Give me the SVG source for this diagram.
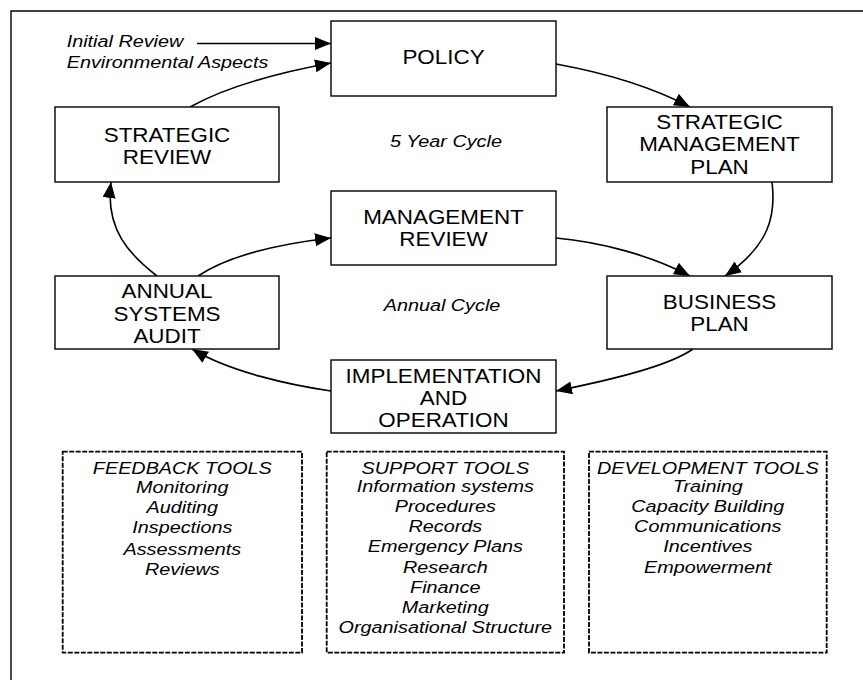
<svg xmlns="http://www.w3.org/2000/svg" width="863" height="680" viewBox="0 0 863 680">
<style>
.box{fill:#fff;stroke:#000;stroke-width:1.4}
.dash{fill:none;stroke:#000;stroke-width:1.8;stroke-dasharray:5 1.5}
.bx{font-family:"Liberation Sans",Arial,sans-serif;font-size:19.5px;text-anchor:middle;fill:#000}
.it{font-family:"Liberation Sans",Arial,sans-serif;font-size:16.5px;font-style:italic;text-anchor:middle;fill:#000}
.itl{font-family:"Liberation Sans",Arial,sans-serif;font-size:16.5px;font-style:italic;fill:#000}
.con{fill:none;stroke:#000;stroke-width:1.6;marker-end:url(#ah)}
</style>
<defs>
<marker id="ah" markerUnits="userSpaceOnUse" markerWidth="17" markerHeight="14" refX="16" refY="6.5" orient="auto">
<path d="M0,0 L16,6.5 L0,13 Z" fill="#000"/>
</marker>
</defs>
<rect width="863" height="680" fill="#fff"/>
<path d="M11,680 V11 H863" fill="none" stroke="#000" stroke-width="1.4"/>

<g id="connectors">
<path class="con" d="M197,43.5 H331"/>
<path class="con" d="M190,107 C215,93 260,76 331,63"/>
<path class="con" d="M556,64 C600,72 650,86 690,107"/>
<path class="con" d="M772,182 C776,215 770,245 725,276"/>
<path class="con" d="M556,238 C600,242 650,255 690,276"/>
<path class="con" d="M693,349 C670,365 620,378 556,391"/>
<path class="con" d="M331,391 C290,385 230,372 192,349"/>
<path class="con" d="M157,276 C130,255 105,230 111,182"/>
<path class="con" d="M198,276 C225,258 270,245 331,238"/>
</g>

<g id="labels-top">
<text class="itl" transform="translate(66.7 0) scale(1.2 1)"><tspan x="0" y="46.7">Initial Review</tspan><tspan x="0" y="68.3">Environmental Aspects</tspan></text>
</g>

<g id="policy">
<rect class="box" x="331" y="21" width="225" height="75"/>
<text class="bx" transform="translate(443.5 0) scale(1.15 1)"><tspan x="0" y="64">POLICY</tspan></text>
</g>

<g id="strategic-review">
<rect class="box" x="55" y="107" width="224" height="75"/>
<text class="bx" transform="translate(167 0) scale(1.15 1)"><tspan x="0" y="141.7">STRATEGIC</tspan><tspan x="0" y="163.7">REVIEW</tspan></text>
</g>

<g id="strategic-management-plan">
<rect class="box" x="607" y="107" width="225" height="75"/>
<text class="bx" transform="translate(719.5 0) scale(1.15 1)"><tspan x="0" y="129.3">STRATEGIC</tspan><tspan x="0" y="151.5">MANAGEMENT</tspan><tspan x="0" y="173.7">PLAN</tspan></text>
</g>

<g id="five-year-cycle">
<text class="it" transform="translate(446 0) scale(1.2 1)"><tspan x="0" y="147.3">5 Year Cycle</tspan></text>
</g>

<g id="management-review">
<rect class="box" x="331" y="191" width="225" height="74"/>
<text class="bx" transform="translate(443.5 0) scale(1.15 1)"><tspan x="0" y="224.5">MANAGEMENT</tspan><tspan x="0" y="246.5">REVIEW</tspan></text>
</g>

<g id="annual-systems-audit">
<rect class="box" x="55" y="276" width="224" height="73"/>
<text class="bx" transform="translate(167 0) scale(1.15 1)"><tspan x="0" y="298.3">ANNUAL</tspan><tspan x="0" y="320.7">SYSTEMS</tspan><tspan x="0" y="343">AUDIT</tspan></text>
</g>

<g id="annual-cycle">
<text class="it" transform="translate(442 0) scale(1.2 1)"><tspan x="0" y="311">Annual Cycle</tspan></text>
</g>

<g id="business-plan">
<rect class="box" x="607" y="276" width="225" height="73"/>
<text class="bx" transform="translate(719.5 0) scale(1.15 1)"><tspan x="0" y="309">BUSINESS</tspan><tspan x="0" y="331.5">PLAN</tspan></text>
</g>

<g id="implementation">
<rect class="box" x="331" y="360" width="225" height="73"/>
<text class="bx" transform="translate(443.5 0) scale(1.15 1)"><tspan x="0" y="383">IMPLEMENTATION</tspan><tspan x="0" y="405">AND</tspan><tspan x="0" y="427">OPERATION</tspan></text>
</g>

<g id="feedback-tools">
<rect class="dash" x="62.7" y="451.7" width="239.3" height="201"/>
<text class="it" transform="translate(182.3 0) scale(1.2 1)"><tspan x="0" y="474">FEEDBACK TOOLS</tspan><tspan x="0" y="493.5">Monitoring</tspan><tspan x="0" y="513.5">Auditing</tspan><tspan x="0" y="533.5">Inspections</tspan><tspan x="0" y="555">Assessments</tspan><tspan x="0" y="575">Reviews</tspan></text>
</g>

<g id="support-tools">
<rect class="dash" x="326.7" y="451.7" width="237.3" height="201"/>
<text class="it" transform="translate(445.3 0) scale(1.2 1)"><tspan x="0" y="474">SUPPORT TOOLS</tspan><tspan x="0" y="491.7">Information systems</tspan><tspan x="0" y="511.7">Procedures</tspan><tspan x="0" y="531.7">Records</tspan><tspan x="0" y="551.7">Emergency Plans</tspan><tspan x="0" y="573.3">Research</tspan><tspan x="0" y="593.3">Finance</tspan><tspan x="0" y="613.3">Marketing</tspan><tspan x="0" y="633.3">Organisational Structure</tspan></text>
</g>

<g id="development-tools">
<rect class="dash" x="589" y="451.7" width="237.7" height="201"/>
<text class="it" transform="translate(707.8 0) scale(1.2 1)"><tspan x="0" y="474">DEVELOPMENT TOOLS</tspan><tspan x="0" y="491.7">Training</tspan><tspan x="0" y="511.7">Capacity Building</tspan><tspan x="0" y="531.7">Communications</tspan><tspan x="0" y="551.7">Incentives</tspan><tspan x="0" y="573.3">Empowerment</tspan></text>
</g>
</svg>
